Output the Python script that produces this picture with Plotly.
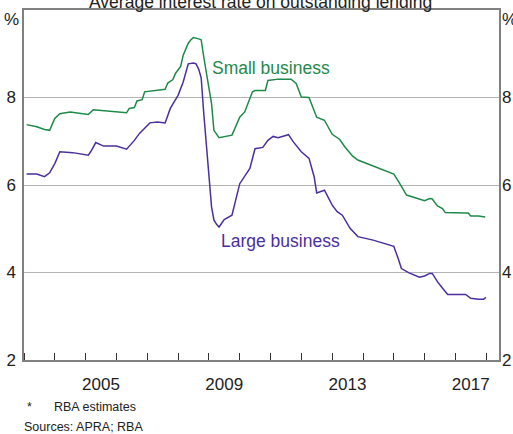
import plotly.graph_objects as go

# ---- data ----
small_dates = ["2003-02", "2003-06", "2003-09", "2003-11", "2004-01", "2004-03", "2004-07",
               "2005-02", "2005-04", "2005-10", "2006-05", "2006-06", "2006-08", "2006-09",
               "2006-11", "2006-12", "2007-08", "2007-09", "2007-11", "2007-12", "2008-02",
               "2008-03", "2008-05", "2008-06", "2008-07", "2008-09", "2008-10", "2008-11",
               "2008-12", "2009-01", "2009-02", "2009-03", "2009-05", "2009-10", "2010-01",
               "2010-03", "2010-06", "2010-07", "2010-11", "2010-12", "2011-04", "2011-09",
               "2011-11", "2012-01", "2012-04", "2012-07", "2012-10", "2013-01", "2013-04",
               "2013-06", "2013-09", "2013-11", "2014-05", "2015-01", "2015-03", "2015-04",
               "2015-06", "2016-01", "2016-03", "2016-04", "2016-06", "2016-08", "2016-09",
               "2017-05", "2017-06", "2017-07", "2017-10", "2017-12-20"]
small_vals = [7.38, 7.33, 7.27, 7.25, 7.52, 7.63, 7.67,
              7.61, 7.72, 7.69, 7.65, 7.75, 7.77, 7.92,
              7.95, 8.13, 8.19, 8.33, 8.41, 8.55, 8.71,
              8.96, 9.24, 9.32, 9.37, 9.34, 9.32, 8.92,
              8.60, 8.24, 7.86, 7.25, 7.08, 7.14, 7.55,
              7.67, 8.13, 8.16, 8.16, 8.39, 8.42, 8.42,
              8.32, 8.01, 8.00, 7.55, 7.48, 7.16, 7.04,
              6.87, 6.66, 6.57, 6.43, 6.25, 6.07, 5.97,
              5.77, 5.64, 5.69, 5.68, 5.52, 5.46, 5.37,
              5.36, 5.36, 5.29, 5.29, 5.27]

large_dates = ["2003-02", "2003-06", "2003-09", "2003-11", "2004-01", "2004-03", "2004-08",
               "2005-02", "2005-03", "2005-05", "2005-08", "2006-01", "2006-05", "2006-08",
               "2006-10", "2007-02", "2007-05", "2007-08", "2007-10", "2008-01", "2008-03",
               "2008-05", "2008-07", "2008-08", "2008-09", "2008-10", "2008-11", "2008-12",
               "2009-01", "2009-02", "2009-03", "2009-04", "2009-05", "2009-07", "2009-10",
               "2010-01", "2010-05", "2010-07", "2010-10", "2010-12", "2011-02", "2011-04",
               "2011-08", "2011-10", "2012-01", "2012-03", "2012-04", "2012-06", "2012-07",
               "2012-10", "2013-01", "2013-03", "2013-05", "2013-08", "2013-11", "2014-05",
               "2014-10", "2015-01", "2015-03", "2015-04", "2015-07", "2015-11", "2016-01",
               "2016-03", "2016-04", "2016-06", "2016-08", "2016-10", "2017-05", "2017-07",
               "2017-10", "2017-12", "2017-12-28"]
large_vals = [6.25, 6.25, 6.19, 6.28, 6.49, 6.76, 6.74,
              6.68, 6.76, 6.97, 6.89, 6.89, 6.82, 7.02,
              7.18, 7.42, 7.44, 7.42, 7.75, 8.05, 8.35,
              8.77, 8.79, 8.77, 8.65, 8.45, 7.63, 6.90,
              6.05, 5.50, 5.20, 5.10, 5.04, 5.21, 5.31,
              6.03, 6.38, 6.83, 6.86, 7.02, 7.11, 7.08,
              7.15, 6.98, 6.76, 6.66, 6.61, 6.19, 5.82,
              5.88, 5.54, 5.39, 5.31, 5.01, 4.82, 4.74,
              4.65, 4.60, 4.28, 4.09, 3.99, 3.89, 3.92,
              3.98, 3.98, 3.79, 3.64, 3.50, 3.50, 3.41,
              3.39, 3.39, 3.43]

y_ticks = [2, 4, 6, 8]
x_label_pos = ["2005-07-01", "2009-07-01", "2013-07-01", "2017-07-01"]
x_labels = ["2005", "2009", "2013", "2017"]
year_starts = [f"{y}-01-01" for y in range(2003, 2019)]

GREEN = "#1f8a48"
PURPLE = "#4b2f9e"
BORDER = "#808080"
GRID = "#b4b4b4"
FONT = "Arial, Liberation Sans, sans-serif"
TXT = "#222222"

fig = go.Figure()
fig.add_trace(go.Scatter(x=small_dates, y=small_vals, mode="lines",
                         line=dict(color=GREEN, width=1.5), showlegend=False,
                         hoverinfo="skip"))
fig.add_trace(go.Scatter(x=large_dates, y=large_vals, mode="lines",
                         line=dict(color=PURPLE, width=1.5), showlegend=False,
                         hoverinfo="skip"))
# invisible trace to activate right axis
fig.add_trace(go.Scatter(x=[None], y=[None], yaxis="y2", showlegend=False))

fig.update_layout(
    width=513, height=434,
    margin=dict(l=24, r=14, t=10, b=74),
    paper_bgcolor="white", plot_bgcolor="white",
    font=dict(family=FONT, size=17, color=TXT),
    xaxis=dict(type="date", range=["2003-01-01", "2018-06-01"],
               tickmode="array", tickvals=x_label_pos, ticktext=x_labels,
               ticks="", showgrid=False, zeroline=False, automargin=False,
               showline=True, linecolor=BORDER, linewidth=1.5, mirror=True,
               ticklabelstandoff=8,
               minor=dict(tickmode="array", tickvals=year_starts, ticks="inside",
                          ticklen=7, tickcolor="#333333", tickwidth=1, showgrid=False)),
    yaxis=dict(range=[2, 10], tickmode="array", tickvals=y_ticks, automargin=False,
               ticks="", showgrid=True, gridcolor=GRID, gridwidth=1, zeroline=False,
               showline=True, linecolor=BORDER, linewidth=1.5, mirror=True,
               ticklabelstandoff=3),
    yaxis2=dict(range=[2, 10], tickmode="array", tickvals=y_ticks, overlaying="y",
                side="right", ticks="", showgrid=False, zeroline=False, showline=False,
                automargin=False, ticklabelstandoff=2),
)

annos = [
    dict(text="Average interest rate on outstanding lending", xref="paper", yref="paper",
         x=0.497, y=1.022, xanchor="center", yanchor="middle", showarrow=False,
         font=dict(size=17.5)),
    dict(text="%", xref="paper", yref="paper", x=-0.006, y=0.974, xanchor="right",
         yanchor="middle", showarrow=False),
    dict(text="%", xref="paper", yref="paper", x=1.002, y=0.974, xanchor="left",
         yanchor="middle", showarrow=False),
    dict(text="Small business", x="2009-01-15", y=8.67, xref="x", yref="y",
         xanchor="left", yanchor="middle", showarrow=False,
         font=dict(size=17.5, color=GREEN)),
    dict(text="Large business", x="2009-04-30", y=4.72, xref="x", yref="y",
         xanchor="left", yanchor="middle", showarrow=False,
         font=dict(size=17.5, color=PURPLE)),
    dict(text="*", xref="paper", yref="paper", x=0.002, y=-0.133, xanchor="left",
         yanchor="middle", showarrow=False, font=dict(size=12.5)),
    dict(text="RBA estimates", xref="paper", yref="paper", x=0.058, y=-0.133,
         xanchor="left", yanchor="middle", showarrow=False, font=dict(size=12.5)),
    dict(text="Sources: APRA; RBA", xref="paper", yref="paper", x=-0.005, y=-0.191,
         xanchor="left", yanchor="middle", showarrow=False, font=dict(size=12.5)),
]
fig.update_layout(annotations=annos)

fig.write_html("out.html", config={"displayModeBar": False},
               post_script="document.body.style.margin='0px';document.body.style.overflow='hidden';")
